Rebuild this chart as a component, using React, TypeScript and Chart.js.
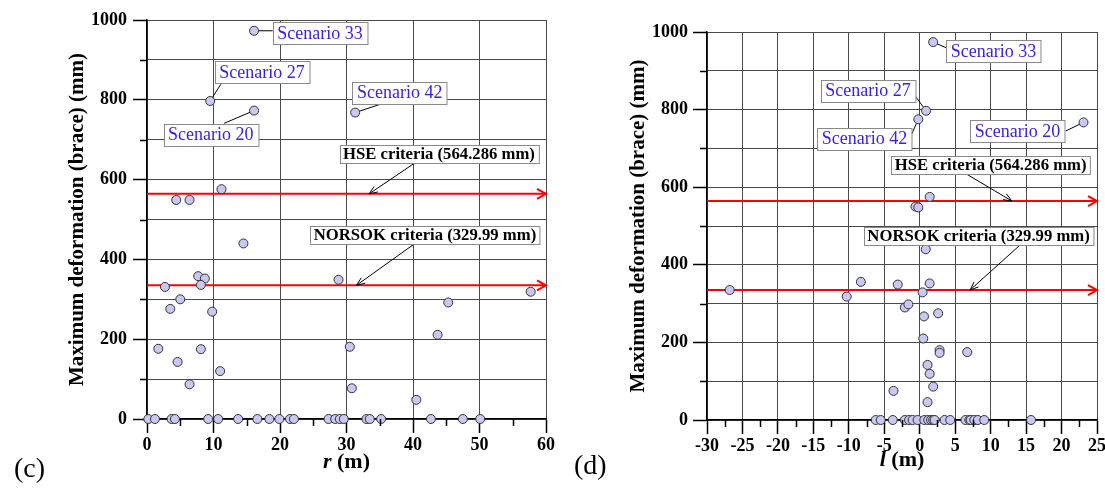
import React, { useEffect, useRef } from 'react';
import { Chart, registerables } from 'chart.js';

Chart.register(...registerables);

const SERIF = "'Liberation Serif', 'Times New Roman', Times, serif";

// ---------- Panel (c): maximum deformation vs r ----------
const rValues = [16.1, 9.5, 16.1, 31.3, 4.4, 6.4, 11.2, 14.5, 2.7, 7.7, 8.7, 8.1, 28.8, 5.0, 3.5, 9.8, 57.7, 45.3, 1.7, 8.1, 4.6, 11.0, 6.4, 30.5, 30.8, 43.7, 40.5];
const rDeformation = [973, 797, 773, 768, 549, 549, 576, 440, 331, 358, 352, 336, 349, 300, 276, 269, 319, 292, 176, 175, 143, 120, 87, 181, 77, 211, 48];
const rZeroDeformation = [0.2, 1.2, 3.7, 4.2, 9.2, 10.7, 13.7, 16.6, 18.4, 19.9, 21.5, 22.1, 27.3, 28.3, 29.0, 29.6, 33.0, 33.5, 35.2, 42.7, 47.5, 50.1];

// ---------- Panel (d): maximum deformation vs l ----------
const lValues = [1.9, 0.9, -0.2, 23.1, 1.4, -0.6, -0.2, 0.85, -26.8, -8.3, -3.1, 1.4, 0.4, -10.3, -2.1, -1.6, 0.6, 2.6, 0.5, 2.8, 2.8, 6.7, 1.1, 1.4, 1.9, -3.7, 1.1];
const lDeformation = [974, 797, 775, 767, 575, 550, 548, 440, 335, 356, 349, 352, 329, 318, 290, 298, 267, 275, 210, 180, 173, 175, 142, 119, 86, 75, 46];
const lZeroDeformation = [-6.2, -5.5, -3.8, -2.1, -1.5, -1.0, -0.3, 0.65, 1.2, 1.6, 1.9, 2.1, 3.5, 4.3, 6.45, 7.0, 7.2, 7.7, 8.2, 9.1, 15.7];

// ---------- criteria ----------
const hseCriterion = 564.286;
const norsokCriterion = 335;

// ---------- tick labels ----------
const yLabelValues = [0, 200, 400, 600, 800, 1000];
const rLabelValues = [0, 10, 20, 30, 40, 50, 60];
const lLabelValues = [-30, -25, -20, -15, -10, -5, 0, 5, 10, 15, 20, 25];

const Y_TITLE = 'Maximum deformation (brace) (mm)';

// ---------- annotations (data coordinates) ----------
const notesC = {
  scenarios: [
    { text: 'Scenario 33', box: [26.0, 967], anchor: [18.9, 973], target: [16.1, 973] },
    { text: 'Scenario 27', box: [17.3, 869], anchor: [11.1, 839], target: [9.5, 797] },
    { text: 'Scenario 20', box: [9.6, 713], anchor: [11.6, 741], target: [16.1, 773] },
    { text: 'Scenario 42', box: [38.0, 818], anchor: [35.5, 791], target: [31.3, 768] },
  ],
  criteria: [
    { text: 'HSE criteria (564.286 mm)', box: [43.9, 664], from: [40.3, 642], to: [33.4, hseCriterion] },
    { text: 'NORSOK criteria (329.99 mm)', box: [41.8, 462], from: [40.3, 440], to: [31.5, norsokCriterion] },
  ],
};

const notesD = {
  scenarios: [
    { text: 'Scenario 33', box: [10.4, 950], anchor: [3.9, 958], target: [1.9, 974] },
    { text: 'Scenario 27', box: [-7.3, 849], anchor: [-0.8, 839], target: [0.9, 797] },
    { text: 'Scenario 42', box: [-7.8, 725], anchor: [-1.3, 730], target: [-0.2, 775] },
    { text: 'Scenario 20', box: [13.8, 745], anchor: [20.6, 745], target: [23.1, 767] },
  ],
  criteria: [
    { text: 'HSE criteria (564.286 mm)', box: [10.0, 658.5], from: [6.4, 636], to: [13.0, hseCriterion] },
    { text: 'NORSOK criteria (329.99 mm)', box: [8.3, 474], from: [14.15, 451], to: [7.1, norsokCriterion] },
  ],
};

const panelC = {
  xs: rValues, ys: rDeformation, zeros: rZeroDeformation,
  xMin: 0, xMax: 60, xStep: 5, xLabels: rLabelValues, xTitle: 'r',
  left: 0, width: 560, height: 490, yAxisWidth: 147, padTop: 20, padRight: 14, xAxisHeight: 71,
  yTitlePad: 65, yTickPad: 6, xTitleOffset: 43, notes: notesC,
};

const panelD = {
  xs: lValues, ys: lDeformation, zeros: lZeroDeformation,
  xMin: -30, xMax: 25, xStep: 2.5, xLabels: lLabelValues, xTitle: 'l',
  left: 552, width: 553, height: 490, yAxisWidth: 155, padTop: 32, padRight: 8, xAxisHeight: 70,
  yTitlePad: 74, yTickPad: 5, xTitleOffset: 40, notes: notesD,
};

function drawBox(ctx: any, text: string, cx: number, cy: number, font: string, color: string, padX: number, h: number) {
  ctx.font = font;
  const w = ctx.measureText(text).width + 2 * padX;
  const x = Math.round(cx - w / 2) + 0.5;
  const y = Math.round(cy - h / 2) + 0.5;
  ctx.fillStyle = '#ffffff';
  ctx.fillRect(x, y, w, h);
  ctx.strokeStyle = '#8a8a8a';
  ctx.lineWidth = 1;
  ctx.strokeRect(x, y, w, h);
  ctx.fillStyle = color;
  ctx.textAlign = 'center';
  ctx.textBaseline = 'middle';
  ctx.fillText(text, cx, cy + 1);
}

function makeDecorPlugin(panel: any) {
  return {
    id: 'panelDecor',
    beforeDatasetsDraw(chart: any) {
      const ctx = chart.ctx;
      const xs = chart.scales.x, ys = chart.scales.y;
      ctx.save();
      ctx.strokeStyle = '#000';
      ctx.lineWidth = 1;
      for (const s of panel.notes.scenarios) {
        ctx.beginPath();
        ctx.moveTo(xs.getPixelForValue(s.anchor[0]), ys.getPixelForValue(s.anchor[1]));
        ctx.lineTo(xs.getPixelForValue(s.target[0]), ys.getPixelForValue(s.target[1]));
        ctx.stroke();
      }
      ctx.restore();
    },
    afterDatasetsDraw(chart: any) {
      const ctx = chart.ctx;
      const xs = chart.scales.x, ys = chart.scales.y;
      ctx.save();
      // arrowheads at end of red criterion lines
      ctx.strokeStyle = '#ff0000';
      ctx.lineWidth = 2;
      for (const c of [hseCriterion, norsokCriterion]) {
        const x = xs.getPixelForValue(panel.xMax);
        const y = ys.getPixelForValue(c);
        ctx.beginPath();
        ctx.moveTo(x - 9, y - 5);
        ctx.lineTo(x, y);
        ctx.lineTo(x - 9, y + 5);
        ctx.stroke();
      }
      // criteria arrows
      ctx.strokeStyle = '#000';
      ctx.lineWidth = 1;
      for (const c of panel.notes.criteria) {
        const x1 = xs.getPixelForValue(c.from[0]), y1 = ys.getPixelForValue(c.from[1]);
        const x2 = xs.getPixelForValue(c.to[0]), y2 = ys.getPixelForValue(c.to[1]);
        ctx.beginPath();
        ctx.moveTo(x1, y1);
        ctx.lineTo(x2, y2);
        ctx.stroke();
        const a = Math.atan2(y2 - y1, x2 - x1);
        const L = 9, sp = 0.38;
        ctx.beginPath();
        ctx.moveTo(x2 - L * Math.cos(a - sp), y2 - L * Math.sin(a - sp));
        ctx.lineTo(x2, y2);
        ctx.lineTo(x2 - L * Math.cos(a + sp), y2 - L * Math.sin(a + sp));
        ctx.stroke();
      }
      for (const s of panel.notes.scenarios) {
        drawBox(ctx, s.text, xs.getPixelForValue(s.box[0]), ys.getPixelForValue(s.box[1]),
          `18px ${SERIF}`, '#3a22e0', 4.5, 22);
      }
      for (const c of panel.notes.criteria) {
        drawBox(ctx, c.text, xs.getPixelForValue(c.box[0]), ys.getPixelForValue(c.box[1]),
          `bold 16.7px ${SERIF}`, '#000', 3.5, 18);
      }
      ctx.restore();
    },
    afterDraw(chart: any) {
      const ctx = chart.ctx;
      const xs = chart.scales.x, ys = chart.scales.y;
      const ca = chart.chartArea;
      ctx.save();
      // minor ticks
      ctx.strokeStyle = '#000';
      ctx.lineWidth = 1.5;
      for (const t of xs.ticks) {
        if (!panel.xLabels.includes(t.value)) {
          const x = Math.round(xs.getPixelForValue(t.value)) + 0.5;
          ctx.beginPath();
          ctx.moveTo(x, ca.bottom);
          ctx.lineTo(x, ca.bottom + 7);
          ctx.stroke();
        }
      }
      for (const t of ys.ticks) {
        if (!yLabelValues.includes(t.value)) {
          const y = Math.round(ys.getPixelForValue(t.value)) + 0.5;
          ctx.beginPath();
          ctx.moveTo(ca.left - 7, y);
          ctx.lineTo(ca.left, y);
          ctx.stroke();
        }
      }
      // x-axis title: italic variable + bold unit
      const f1 = `italic bold 22px ${SERIF}`;
      const f2 = `bold 22px ${SERIF}`;
      ctx.font = f1;
      const w1 = ctx.measureText(panel.xTitle).width;
      ctx.font = f2;
      const w2 = ctx.measureText(' (m)').width;
      const cx = (ca.left + ca.right) / 2;
      const x0 = cx - (w1 + w2) / 2;
      const y0 = ca.bottom + panel.xTitleOffset;
      ctx.fillStyle = '#000';
      ctx.textAlign = 'left';
      ctx.textBaseline = 'middle';
      ctx.font = f1;
      ctx.fillText(panel.xTitle, x0, y0);
      ctx.font = f2;
      ctx.fillText(' (m)', x0 + w1, y0);
      ctx.restore();
    },
  };
}

function buildConfig(panel: any): any {
  const pts = panel.xs.map((x: number, i: number) => ({ x, y: panel.ys[i] }));
  const zeroPts = panel.zeros.map((x: number) => ({ x, y: 0 }));
  const tickFont = { family: SERIF, size: 18, weight: 'bold' as const };
  return {
    type: 'scatter',
    data: {
      datasets: [
        {
          data: [...pts, ...zeroPts],
          pointRadius: 4.5,
          pointBackgroundColor: '#c8c8f2',
          pointBorderColor: '#333333',
          pointBorderWidth: 1,
          showLine: false,
          clip: false,
          order: 0,
        },
        {
          data: [{ x: panel.xMin, y: hseCriterion }, { x: panel.xMax, y: hseCriterion }],
          showLine: true,
          borderColor: '#ff0000',
          borderWidth: 2,
          pointRadius: 0,
          clip: false,
          order: 1,
        },
        {
          data: [{ x: panel.xMin, y: norsokCriterion }, { x: panel.xMax, y: norsokCriterion }],
          showLine: true,
          borderColor: '#ff0000',
          borderWidth: 2,
          pointRadius: 0,
          clip: false,
          order: 1,
        },
      ],
    },
    options: {
      animation: false,
      responsive: false,
      events: [],
      layout: { padding: { left: 0, top: panel.padTop, right: panel.padRight, bottom: 0 } },
      plugins: { legend: { display: false }, tooltip: { enabled: false } },
      scales: {
        x: {
          type: 'linear',
          position: 'bottom',
          min: panel.xMin,
          max: panel.xMax,
          ticks: {
            stepSize: panel.xStep,
            autoSkip: false,
            maxRotation: 0,
            minRotation: 0,
            padding: 2,
            color: '#000',
            font: tickFont,
            callback: (v: number) => (panel.xLabels.includes(v) ? String(v) : ''),
          },
          grid: {
            color: (c: any) => (c.tick && panel.xLabels.includes(c.tick.value) ? '#4a4a4a' : 'rgba(0,0,0,0)'),
            tickColor: (c: any) => (c.tick && panel.xLabels.includes(c.tick.value) ? '#000' : 'rgba(0,0,0,0)'),
            lineWidth: 1,
            tickLength: 14,
            tickWidth: 1.5,
          },
          border: { color: '#000', width: 1.5 },
          afterFit: (s: any) => {
            s.height = panel.xAxisHeight;
            s.paddingLeft = 0;
            s.paddingRight = 0;
          },
        },
        y: {
          type: 'linear',
          position: 'left',
          min: 0,
          max: 1000,
          ticks: {
            stepSize: 100,
            autoSkip: false,
            padding: panel.yTickPad,
            color: '#000',
            font: tickFont,
            callback: (v: number) => (yLabelValues.includes(v) ? String(v) : ''),
          },
          grid: {
            color: '#4a4a4a',
            tickColor: (c: any) => (c.tick && yLabelValues.includes(c.tick.value) ? '#000' : 'rgba(0,0,0,0)'),
            lineWidth: 1,
            tickLength: 14,
            tickWidth: 1.5,
          },
          border: { color: '#000', width: 1.5 },
          title: {
            display: true,
            text: Y_TITLE,
            color: '#000',
            font: { family: SERIF, size: 21, weight: 'bold' },
            padding: { top: panel.yTitlePad, bottom: 0 },
          },
          afterFit: (s: any) => {
            s.width = panel.yAxisWidth;
            s.paddingTop = 0;
            s.paddingBottom = 0;
          },
        },
      },
    },
    plugins: [makeDecorPlugin(panel)],
  };
}

function Panel({ panel }: { panel: any }) {
  const ref = useRef<HTMLCanvasElement | null>(null);
  useEffect(() => {
    if (!ref.current) return;
    const chart = new Chart(ref.current, buildConfig(panel));
    return () => chart.destroy();
  }, [panel]);
  return (
    <canvas
      ref={ref}
      width={panel.width}
      height={panel.height}
      style={{ position: 'absolute', left: panel.left, top: 0, width: panel.width, height: panel.height, display: 'block' }}
    />
  );
}

export default function App() {
  const labelStyle: React.CSSProperties = {
    position: 'absolute',
    fontFamily: SERIF,
    fontSize: 28,
    lineHeight: '28px',
    color: '#000',
  };
  return (
    <div style={{ position: 'fixed', left: 0, top: 0, width: 1105, height: 490, background: '#fff', overflow: 'hidden' }}>
      <Panel panel={panelC} />
      <Panel panel={panelD} />
      <div style={{ ...labelStyle, left: 14, top: 454 }}>(c)</div>
      <div style={{ ...labelStyle, left: 574, top: 451 }}>(d)</div>
    </div>
  );
}
